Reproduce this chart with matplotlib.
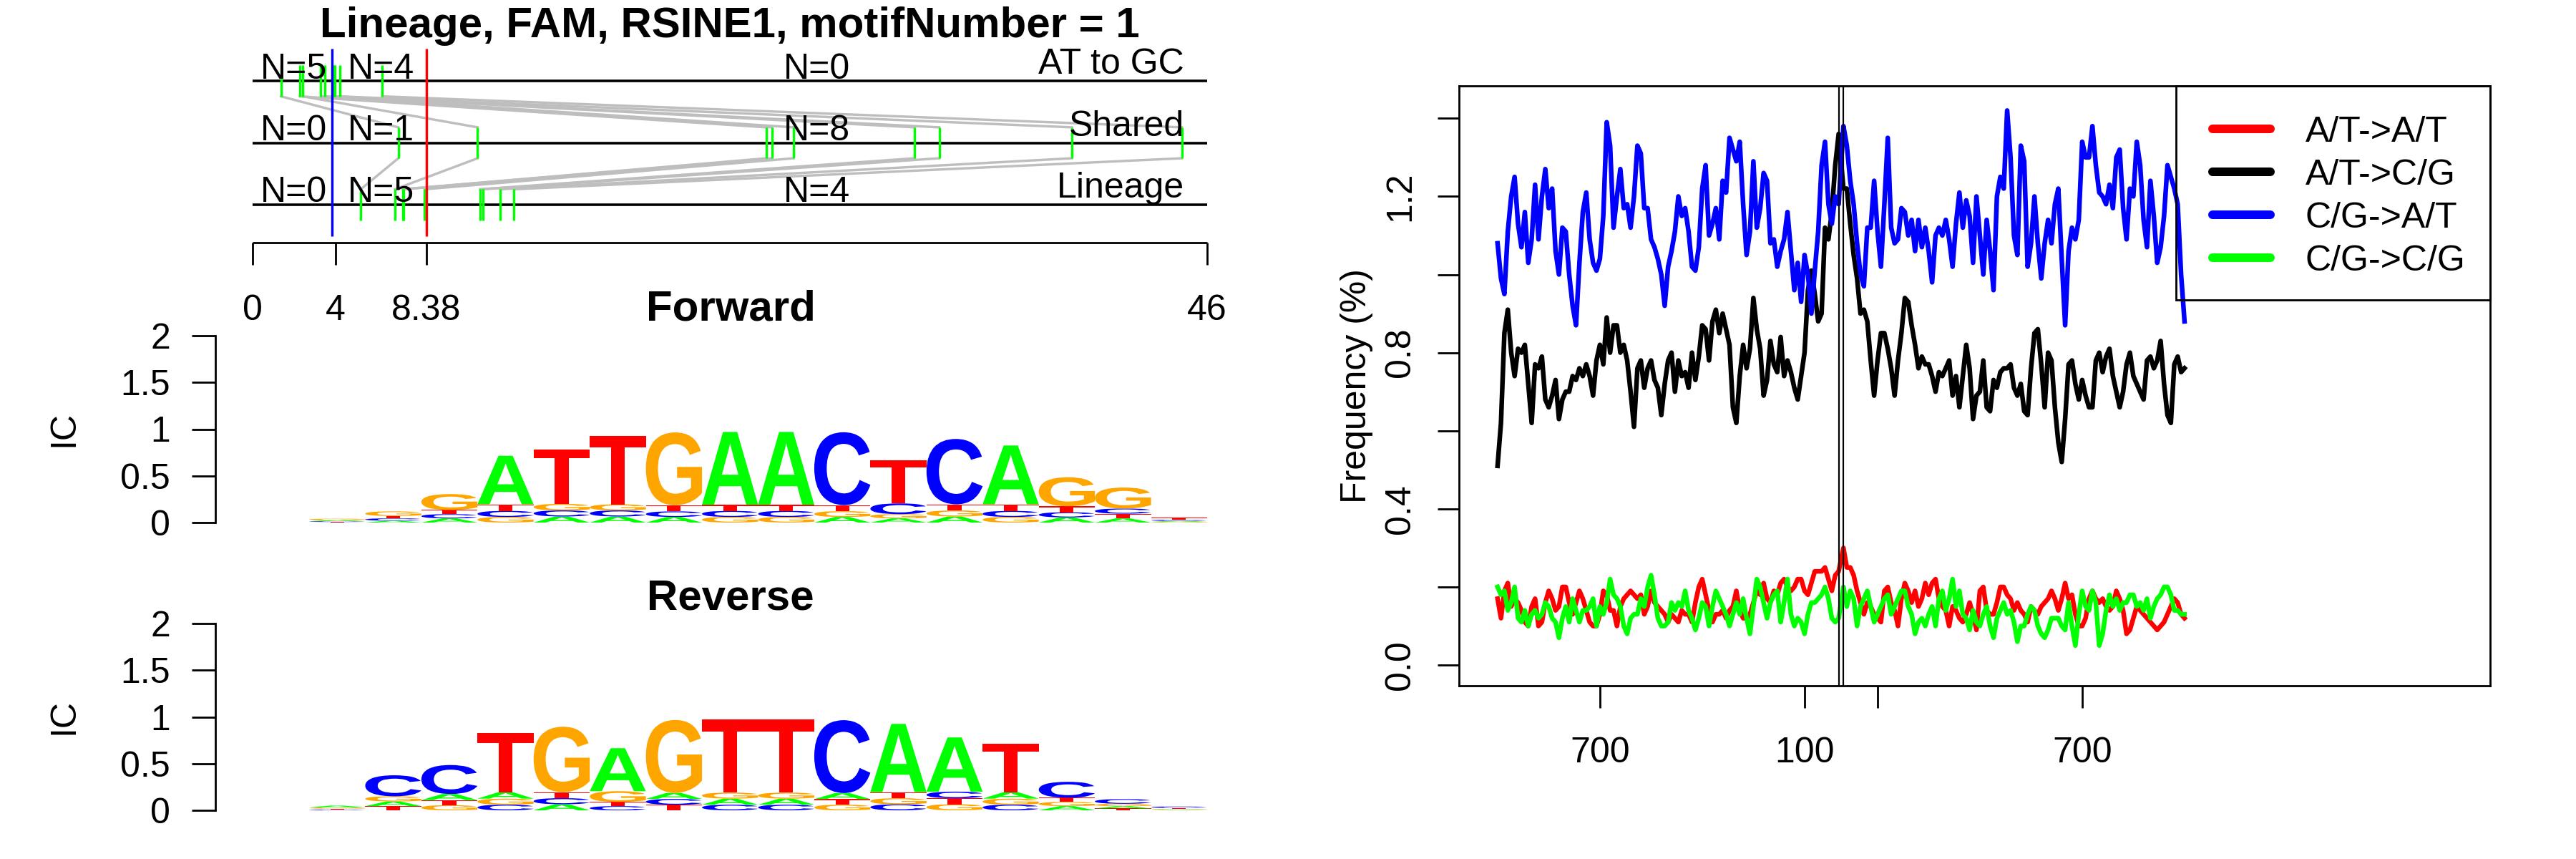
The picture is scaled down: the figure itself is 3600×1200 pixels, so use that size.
import numpy as np
import matplotlib
matplotlib.use("Agg")
import matplotlib.pyplot as plt
from matplotlib.textpath import TextPath
from matplotlib.font_manager import FontProperties
from matplotlib.patches import PathPatch, Rectangle
from matplotlib.transforms import Affine2D
from matplotlib.lines import Line2D

plt.rcParams["font.family"] = ["Liberation Sans", "DejaVu Sans"]

W, H, DPI = 3600, 1200, 300
PX = 72.0 / DPI          # points per pixel

# ---------------- data: lineage panel ----------------
TITLE = "Lineage, FAM, RSINE1, motifNumber = 1"
ROW_LABELS = ["AT to GC", "Shared", "Lineage"]
TOP_TICKS = [0, 4, 8.38, 46]
TOP_TICK_LABELS = ["0", "4", "8.38", "46"]
BLUE_X = 3.84
RED_X = 8.38
# one entry per element, same order in all three rows
at_gc_pos = [1.38, 2.43, 2.29, 3.30, 3.50, 3.93, 3.97, 4.22, 6.26]
shared_pos = [7.03, 10.85, 24.77, 25.05, 26.07, 31.90, 33.09, 39.48, 44.78]
lineage_pos = [5.22, 6.87, 7.24, 7.29, 8.30, 10.97, 11.11, 11.95, 12.61]

# ---------------- data: forward motif (bits per base, 16 positions) ----------------
fwd_A = [0.012, 0.020, 0.045, 0.520, 0.065, 0.065, 0.060, 0.780, 0.780, 0.060, 0.045, 0.065, 0.630, 0.055, 0.045, 0.010]
fwd_C = [0.008, 0.025, 0.045, 0.065, 0.065, 0.065, 0.060, 0.065, 0.065, 0.780, 0.115, 0.700, 0.065, 0.055, 0.055, 0.012]
fwd_G = [0.015, 0.050, 0.170, 0.060, 0.070, 0.065, 0.780, 0.060, 0.060, 0.062, 0.045, 0.065, 0.060, 0.310, 0.225, 0.008]
fwd_T = [0.006, 0.025, 0.045, 0.070, 0.580, 0.730, 0.065, 0.065, 0.065, 0.065, 0.460, 0.065, 0.070, 0.065, 0.050, 0.020]
BASE_COLORS = {"A": "#00FF00", "C": "#0000FF", "G": "#FFA500", "T": "#FF0000"}

# ---------------- data: mutation frequency profiles (%), 10 bp steps ----------------
STEP = 10
GAP = 14
blue_up = [1.08, 0.99, 0.95, 1.11, 1.20, 1.25, 1.13, 1.07, 1.16, 1.03,
           1.09, 1.23, 1.09, 1.20, 1.27, 1.17, 1.22, 1.06, 1.00, 1.12,
           1.11, 1.00, 0.92, 0.87, 1.03, 1.16, 1.21, 1.09, 1.03, 1.01,
           1.04, 1.15, 1.39, 1.33, 1.12, 1.20, 1.27, 1.17, 1.18, 1.12,
           1.20, 1.33, 1.31, 1.17, 1.17, 1.09, 1.07, 1.04, 1.00, 0.92,
           1.02, 1.06, 1.11, 1.20, 1.15, 1.17, 1.11, 1.02, 1.01, 1.07,
           1.22, 1.28, 1.10, 1.13, 1.17, 1.09, 1.24, 1.21, 1.35, 1.32,
           1.29, 1.34, 1.18, 1.05, 1.11, 1.29, 1.12, 1.17, 1.26, 1.24,
           1.08, 1.09, 1.02, 1.06, 1.09, 1.16, 1.06, 0.96, 1.03, 0.93,
           1.05, 1.00, 0.90, 1.01, 1.11, 1.28, 1.34, 1.18, 1.13, 1.20,
           1.18]
black_up = [0.51, 0.62, 0.85, 0.91, 0.80, 0.74, 0.81, 0.80, 0.82, 0.72,
            0.62, 0.77, 0.76, 0.79, 0.68, 0.66, 0.69, 0.73, 0.63, 0.68,
            0.70, 0.70, 0.74, 0.73, 0.76, 0.74, 0.77, 0.74, 0.69, 0.78,
            0.82, 0.77, 0.89, 0.80, 0.87, 0.87, 0.80, 0.82, 0.78, 0.70,
            0.61, 0.76, 0.78, 0.71, 0.76, 0.78, 0.73, 0.71, 0.64, 0.72,
            0.78, 0.80, 0.70, 0.78, 0.74, 0.75, 0.71, 0.80, 0.73, 0.79,
            0.87, 0.86, 0.78, 0.88, 0.91, 0.85, 0.90, 0.86, 0.82, 0.66,
            0.62, 0.74, 0.82, 0.76, 0.81, 0.94, 0.86, 0.81, 0.69, 0.73,
            0.83, 0.77, 0.75, 0.84, 0.74, 0.78, 0.75, 0.71, 0.68, 0.74,
            0.80, 0.96, 1.01, 0.95, 0.88, 0.90, 1.12, 1.09, 1.16, 1.28,
            1.36]
red_up = [0.17, 0.12, 0.19, 0.21, 0.15, 0.17, 0.16, 0.14, 0.11, 0.10,
          0.15, 0.17, 0.10, 0.11, 0.16, 0.19, 0.17, 0.14, 0.15, 0.20,
          0.20, 0.16, 0.13, 0.16, 0.19, 0.17, 0.14, 0.11, 0.10, 0.10,
          0.13, 0.19, 0.18, 0.14, 0.14, 0.10, 0.15, 0.17, 0.18, 0.19,
          0.18, 0.17, 0.18, 0.13, 0.15, 0.19, 0.16, 0.15, 0.14, 0.13,
          0.11, 0.13, 0.12, 0.11, 0.14, 0.13, 0.13, 0.11, 0.16, 0.20,
          0.22, 0.18, 0.14, 0.11, 0.13, 0.13, 0.14, 0.12, 0.14, 0.15,
          0.19, 0.14, 0.12, 0.12, 0.13, 0.16, 0.19, 0.18, 0.21, 0.17,
          0.16, 0.19, 0.18, 0.21, 0.22, 0.20, 0.19, 0.20, 0.22, 0.22,
          0.19, 0.18, 0.21, 0.24, 0.24, 0.24, 0.25, 0.22, 0.19, 0.23,
          0.24]
green_up = [0.20, 0.18, 0.19, 0.14, 0.16, 0.20, 0.12, 0.11, 0.14, 0.10,
            0.13, 0.14, 0.12, 0.13, 0.16, 0.15, 0.12, 0.11, 0.07, 0.12,
            0.15, 0.11, 0.17, 0.14, 0.11, 0.14, 0.14, 0.15, 0.17, 0.10,
            0.15, 0.13, 0.16, 0.22, 0.18, 0.17, 0.15, 0.10, 0.08, 0.12,
            0.13, 0.13, 0.17, 0.15, 0.20, 0.23, 0.18, 0.12, 0.10, 0.10,
            0.11, 0.16, 0.14, 0.16, 0.15, 0.19, 0.14, 0.12, 0.09, 0.12,
            0.16, 0.15, 0.10, 0.15, 0.19, 0.17, 0.15, 0.13, 0.10, 0.13,
            0.16, 0.13, 0.17, 0.12, 0.08, 0.15, 0.22, 0.20, 0.16, 0.12,
            0.16, 0.18, 0.19, 0.11, 0.16, 0.22, 0.13, 0.10, 0.12, 0.11,
            0.08, 0.13, 0.16, 0.16, 0.17, 0.18, 0.20, 0.17, 0.12, 0.11,
            0.12]
blue_dn = [1.38, 1.33, 1.24, 1.18, 1.08, 1.00, 0.97, 1.12, 1.12, 1.24,
           1.11, 1.02, 1.18, 1.35, 1.12, 1.08, 1.09, 1.17, 1.16, 1.10,
           1.14, 1.06, 1.14, 1.07, 1.12, 1.06, 0.98, 1.10, 1.12, 1.10,
           1.14, 1.09, 1.02, 1.13, 1.21, 1.12, 1.19, 1.15, 1.03, 1.20,
           1.10, 1.00, 1.14, 1.06, 0.96, 1.20, 1.25, 1.22, 1.42, 1.30,
           1.10, 1.05, 1.33, 1.29, 1.02, 1.08, 1.20, 1.08, 0.99, 1.08,
           1.14, 1.08, 1.18, 1.22, 1.04, 0.87, 1.06, 1.12, 1.09, 1.14,
           1.34, 1.30, 1.30, 1.38, 1.28, 1.21, 1.20, 1.18, 1.23, 1.17,
           1.30, 1.32, 1.17, 1.09, 1.22, 1.20, 1.34, 1.28, 1.14, 1.07,
           1.24, 1.15, 1.03, 1.07, 1.15, 1.28, 1.25, 1.22, 1.18, 1.00,
           0.88]
black_dn = [1.22, 1.22, 1.13, 1.05, 0.99, 0.90, 0.91, 0.88, 0.78, 0.69,
            0.78, 0.85, 0.85, 0.81, 0.76, 0.69, 0.78, 0.85, 0.94, 0.93,
            0.87, 0.82, 0.76, 0.79, 0.77, 0.77, 0.74, 0.70, 0.75, 0.74,
            0.76, 0.78, 0.69, 0.74, 0.66, 0.74, 0.82, 0.76, 0.63, 0.69,
            0.70, 0.78, 0.66, 0.65, 0.73, 0.71, 0.75, 0.76, 0.76, 0.77,
            0.71, 0.69, 0.72, 0.65, 0.64, 0.76, 0.85, 0.86, 0.77, 0.66,
            0.80, 0.78, 0.66, 0.57, 0.52, 0.63, 0.77, 0.78, 0.72, 0.68,
            0.73, 0.69, 0.66, 0.66, 0.78, 0.80, 0.75, 0.79, 0.81, 0.74,
            0.70, 0.66, 0.70, 0.77, 0.80, 0.74, 0.72, 0.70, 0.68, 0.78,
            0.79, 0.76, 0.78, 0.83, 0.72, 0.64, 0.62, 0.77, 0.79, 0.75,
            0.76]
red_dn = [0.30, 0.25, 0.25, 0.23, 0.19, 0.16, 0.13, 0.16, 0.15, 0.13,
          0.12, 0.11, 0.19, 0.20, 0.16, 0.14, 0.10, 0.17, 0.21, 0.19,
          0.16, 0.19, 0.15, 0.17, 0.21, 0.18, 0.21, 0.22, 0.17, 0.15,
          0.14, 0.10, 0.15, 0.14, 0.12, 0.11, 0.13, 0.16, 0.13, 0.09,
          0.19, 0.20, 0.14, 0.13, 0.13, 0.16, 0.20, 0.20, 0.18, 0.17,
          0.14, 0.16, 0.14, 0.13, 0.11, 0.15, 0.14, 0.13, 0.15, 0.16,
          0.17, 0.19, 0.17, 0.14, 0.17, 0.21, 0.17, 0.18, 0.13, 0.10,
          0.10, 0.12, 0.17, 0.19, 0.17, 0.16, 0.17, 0.15, 0.14, 0.15,
          0.19, 0.17, 0.14, 0.08, 0.09, 0.12, 0.15, 0.14, 0.13, 0.12,
          0.11, 0.10, 0.09, 0.10, 0.11, 0.13, 0.15, 0.17, 0.16, 0.13,
          0.12]
green_dn = [0.20, 0.15, 0.19, 0.17, 0.10, 0.15, 0.17, 0.19, 0.15, 0.11,
            0.13, 0.15, 0.17, 0.18, 0.13, 0.15, 0.17, 0.19, 0.19, 0.15,
            0.13, 0.08, 0.11, 0.12, 0.10, 0.13, 0.15, 0.10, 0.17, 0.19,
            0.14, 0.17, 0.22, 0.15, 0.19, 0.13, 0.12, 0.09, 0.14, 0.11,
            0.10, 0.13, 0.15, 0.10, 0.07, 0.12, 0.14, 0.16, 0.13, 0.14,
            0.11, 0.06, 0.10, 0.10, 0.13, 0.15, 0.14, 0.10, 0.08, 0.07,
            0.09, 0.12, 0.12, 0.12, 0.10, 0.09, 0.16, 0.10, 0.05, 0.13,
            0.19, 0.15, 0.14, 0.19, 0.16, 0.05, 0.08, 0.14, 0.18, 0.15,
            0.17, 0.14, 0.16, 0.16, 0.18, 0.18, 0.15, 0.16, 0.14, 0.17,
            0.12, 0.15, 0.17, 0.18, 0.20, 0.20, 0.18, 0.14, 0.14, 0.13,
            0.13]
SERIES = [("A/T->A/T", "#FF0000", red_up, red_dn),
          ("A/T->C/G", "#000000", black_up, black_dn),
          ("C/G->A/T", "#0000FF", blue_up, blue_dn),
          ("C/G->C/G", "#00FF00", green_up, green_dn)]
X_TICKS = [-700, -100, 100 + GAP, 700 + GAP]
X_TICK_LABELS = ["700", "100", "", "700"]
Y_TICKS = [0.0, 0.2, 0.4, 0.6, 0.8, 1.0, 1.2, 1.4]
Y_TICK_LABELS = ["0.0", "", "0.4", "", "0.8", "", "1.2", ""]


def rect(x0, y0, x1, y1):
    """pixel box (top-left origin) -> figure fraction rect"""
    return [x0 / W, 1 - y1 / H, (x1 - x0) / W, (y1 - y0) / H]


def fx(x):
    return x / W


def fy(y):
    return 1 - y / H


fig = plt.figure(figsize=(W / DPI, H / DPI), dpi=DPI)

# ================= lineage panel =================
ROW_SP = 86.5


def ry(px):
    return 1 + (286 - px) / ROW_SP


ax_top = fig.add_axes(rect(352.7, 0, 1687, 460))
ax_top.set_xlim(0, 46)
ax_top.set_ylim(ry(460), ry(0))
ax_top.axis("off")
rows = [3, 2, 1]
half = 0.25
lw_thin = 3.4 * PX

for i in range(len(at_gc_pos)):
    ax_top.plot([at_gc_pos[i], shared_pos[i]], [3 - half, 2 + half], color="#BEBEBE",
                lw=lw_thin, clip_on=False, zorder=1)
    ax_top.plot([shared_pos[i], lineage_pos[i]], [2 - half, 1 + half], color="#BEBEBE",
                lw=lw_thin, clip_on=False, zorder=1)

bounds = [0, BLUE_X, RED_X, 46]
mids = [(TOP_TICKS[j] + TOP_TICKS[j + 1]) / 2 for j in range(3)]
for r, pos, lab in zip(rows, [at_gc_pos, shared_pos, lineage_pos], ROW_LABELS):
    ax_top.hlines(r, 0, 46, color="black", lw=3.6 * PX, zorder=2, clip_on=False)
    ax_top.vlines(pos, r - half, r + half, color="#00FF00", lw=lw_thin, zorder=3, clip_on=False)
    for j in range(3):
        n = sum(1 for p in pos if bounds[j] <= p < bounds[j + 1])
        ax_top.text(mids[j], r + 3.5 / ROW_SP, f"N={n}", ha="center", va="baseline",
                    fontsize=12, clip_on=False)
    ax_top.text(44.9, r + 10 / ROW_SP, lab, ha="right", va="baseline", fontsize=12, clip_on=False)

ax_top.vlines(BLUE_X, ry(330), ry(68), color="#0000FF", lw=lw_thin, zorder=4, clip_on=False)
ax_top.vlines(RED_X, ry(330), ry(68), color="#FF0000", lw=lw_thin, zorder=4, clip_on=False)
ax_top.hlines(ry(339), 0, 46, color="black", lw=2.8 * PX, clip_on=False)
ax_top.vlines(TOP_TICKS, ry(370), ry(339), color="black", lw=2.8 * PX, clip_on=False)
for t, lab in zip(TOP_TICKS, TOP_TICK_LABELS):
    ax_top.text(t, ry(447), lab, ha="center", va="baseline", fontsize=12, clip_on=False)

fig.text(fx(1020), fy(52), TITLE, ha="center", va="baseline", fontsize=14.4, fontweight="bold")

# ================= sequence logos =================
LETTER_FP = FontProperties(family="Liberation Sans", weight="bold")


def draw_letter(ax, ch, x0, y0, w, h):
    tp = TextPath((0, 0), ch, size=1, prop=LETTER_FP)
    bb = tp.get_extents()
    tr = (Affine2D().translate(-bb.x0, -bb.y0)
          .scale(w / bb.width, h / bb.height).translate(x0, y0))
    ax.add_patch(PathPatch(tr.transform_path(tp), facecolor=BASE_COLORS[ch],
                           edgecolor="none", lw=0))


def draw_logo(y_top, y_bot, heights, title, title_base):
    ax = fig.add_axes(rect(301, y_top, 1687, y_bot))
    ax.set_facecolor("none")
    ax.set_xlim((301 - 432) / 78.44, 16)
    ax.set_ylim(0, 2)
    for s in ("top", "right", "bottom"):
        ax.spines[s].set_visible(False)
    ax.spines["left"].set_linewidth(2.8 * PX)
    ax.set_xticks([])
    ax.set_yticks([0, 0.5, 1, 1.5, 2])
    ax.set_yticklabels(["0", "0.5", "1", "1.5", "2"])
    ax.tick_params(axis="y", length=33 * PX, width=2.8 * PX, pad=30 * PX, labelsize=12)
    n = len(heights["A"])
    for i in range(n):
        stack = sorted(((heights[b][i], b) for b in "ACGT"))
        y0 = 0.0
        for h, b in stack:
            draw_letter(ax, b, i, y0, 1.0, h)
            y0 += h
    fig.text(fx(89.5), fy((y_top + y_bot) / 2), "IC", rotation=90, ha="center",
             va="center", fontsize=12)
    fig.text(fx(1021), fy(title_base), title, ha="center", va="baseline",
             fontsize=14.4, fontweight="bold")


fwd = {"A": fwd_A, "C": fwd_C, "G": fwd_G, "T": fwd_T}
comp = {"A": "T", "C": "G", "G": "C", "T": "A"}
rev = {b: list(reversed(fwd[comp[b]])) for b in "ACGT"}
draw_logo(469, 730, fwd, "Forward", 447)
draw_logo(871, 1132, rev, "Reverse", 852)

# ================= frequency profile =================
ax = fig.add_axes(rect(2039, 120, 3480, 958))
x_up = -STEP * np.arange(len(blue_up))[::-1]
x_dn = GAP + STEP * np.arange(len(blue_dn))
for name, col, up, dn in SERIES:
    ax.plot(np.concatenate([x_up, x_dn]), up + dn, color=col, lw=6.5 * PX,
            solid_joinstyle="round")
ax.axvline(0, color="black", lw=2.2 * PX)
ax.axvline(GAP, color="black", lw=2.2 * PX)
ax.set_xlim(-1113, 1910)
ax.set_ylim(-0.053, 1.483)
ax.set_xticks(X_TICKS)
ax.set_xticklabels(X_TICK_LABELS)
ax.set_yticks(Y_TICKS)
ax.set_yticklabels(Y_TICK_LABELS, rotation=90, va="center")
ax.tick_params(axis="x", length=31 * PX, width=2.8 * PX, pad=40 * PX, labelsize=12)
ax.tick_params(axis="y", length=30 * PX, width=2.8 * PX, pad=29 * PX, labelsize=12)
for s in ax.spines.values():
    s.set_linewidth(2.8 * PX)
fig.text(fx(1896), fy(539), "Frequency (%)", rotation=90, ha="center", va="center", fontsize=12)

# legend box drawn by hand to match the original layout
fig.add_artist(Rectangle((fx(3041), fy(419)), (3480 - 3041) / W, (419 - 120) / H,
                         transform=fig.transFigure, fill=False, ec="black", lw=2.8 * PX))
for k, (name, col, _, _) in enumerate(SERIES):
    yrow = 180 + 60 * k
    fig.add_artist(Line2D([fx(3092), fx(3173)], [fy(yrow), fy(yrow)], color=col,
                          lw=12 * PX, solid_capstyle="round", transform=fig.transFigure))
    fig.text(fx(3222), fy(yrow + 18), name, ha="left", va="baseline", fontsize=12)

fig.savefig("out.png", dpi=DPI)
